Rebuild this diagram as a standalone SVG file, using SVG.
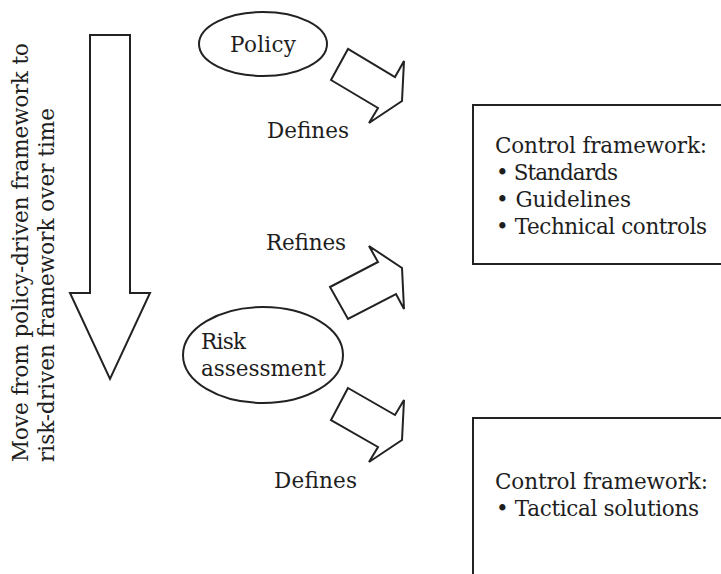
<svg xmlns="http://www.w3.org/2000/svg" width="721" height="574" viewBox="0 0 721 574">
  <style>
    .shape { fill: #ffffff; stroke: #222222; stroke-width: 2; stroke-linejoin: miter; }
    .txt { font-family: "DejaVu Serif", "Liberation Serif", serif; font-size: 21.5px; fill: #1e1e1e; }
  </style>
  <rect width="721" height="574" fill="#ffffff"/>

  <!-- Time direction: big downward arrow with rotated caption -->
  <g id="timeline">
    <polygon class="shape" points="90,35 130,35 130,293 150,293 110,379 70,293 90,293"/>
    <text class="txt" transform="translate(28,462) rotate(-90)" textLength="419" lengthAdjust="spacing">Move from policy-driven framework to</text>
    <text class="txt" transform="translate(54,462) rotate(-90)" textLength="354" lengthAdjust="spacing">risk-driven framework over time</text>
  </g>

  <g id="policy">
    <ellipse class="shape" cx="263" cy="44" rx="64" ry="32"/>
    <text class="txt" x="230" y="52" textLength="66" lengthAdjust="spacing">Policy</text>
  </g>

  <g id="risk-assessment">
    <ellipse class="shape" cx="263" cy="355" rx="80" ry="48"/>
    <text class="txt" x="201" y="349" textLength="45" lengthAdjust="spacing">Risk</text>
    <text class="txt" x="201" y="376" textLength="125" lengthAdjust="spacing">assessment</text>
  </g>

  <g id="control-framework-standards">
    <path class="shape" d="M 730,105 L 473,105 L 473,264 L 730,264"/>
    <text class="txt" x="495" y="153" textLength="212" lengthAdjust="spacing">Control framework:</text>
    <text class="txt" x="496" y="180" textLength="122" lengthAdjust="spacing">• Standards</text>
    <text class="txt" x="496" y="207" textLength="135" lengthAdjust="spacing">• Guidelines</text>
    <text class="txt" x="496" y="234" textLength="211" lengthAdjust="spacing">• Technical controls</text>
  </g>

  <g id="control-framework-tactical">
    <path class="shape" d="M 730,418 L 473,418 L 473,590"/>
    <text class="txt" x="495" y="489" textLength="213" lengthAdjust="spacing">Control framework:</text>
    <text class="txt" x="496" y="516" textLength="203" lengthAdjust="spacing">• Tactical solutions</text>
  </g>

  <!-- Block arrows between the drivers and the control frameworks -->
  <g id="connectors">
    <polygon class="shape" points="331,80 348,49 395,77 404,61 402,101 369,123 378,108"/>
    <text class="txt" x="267" y="138" textLength="82" lengthAdjust="spacing">Defines</text>

    <polygon class="shape" points="330,287 378,262 369,246 402,268 404,309 396,294 348,319"/>
    <text class="txt" x="266" y="250" textLength="80" lengthAdjust="spacing">Refines</text>

    <polygon class="shape" points="348,388 395,415 404,400 402,440 369,462 378,447 331,420"/>
    <text class="txt" x="274" y="488" textLength="83" lengthAdjust="spacing">Defines</text>
  </g>
</svg>
